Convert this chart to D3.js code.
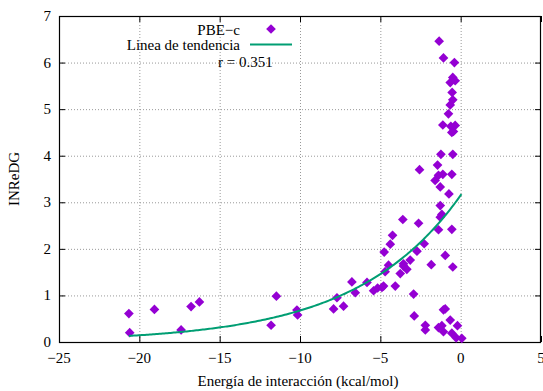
<!DOCTYPE html>
<html>
<head>
<meta charset="utf-8">
<script src="https://cdn.jsdelivr.net/npm/d3@7"></script>
<style>
  body { margin: 0; background: #fff; }
  svg { display: block; font-family: "Liberation Serif", "DejaVu Serif", serif; }
</style>
</head>
<body>
<div id="chart"></div>
<script>
// energies (kcal/mol) and INReDG values
let energia = [
  -20.65, -20.6, -19.06, -17.4, -16.78, -16.26, -11.47, -11.8, -10.19, -10.15,
  -7.91, -7.29, -7.7, -6.77, -6.56, -5.83, -5.42, -5.17, -4.9, -4.8,
  -4.07, -4.7, -4.49, -4.76, -4.38, -4.24, -3.6, -3.76, -3.56,
  -2.27, -2.72, -3.14, -3.56, -3.35, -1.83, -0.96, -0.49, -2.93, -2.89,
  -2.2, -2.2, -1.07, -0.96, -1.38, -1.17, -1.07, -0.65, -0.55, -0.2, -0.28, 0.07,
  -0.55, -1.23, -0.49, -2.56, -1.44, -1.38, -1.11, -1.59, -0.55, -1.27, -0.73,
  -1.27, -1.17, -1.27, -2.62, -1.38, -0.55,
  -1.34, -1.07, -0.39, -0.49, -0.34, -0.65, -0.53, -0.49, -0.65, -0.76,
  -1.11, -0.61, -0.45, -0.34
];
let inredg = [
  0.61, 0.20, 0.70, 0.26, 0.76, 0.86, 0.985, 0.36, 0.685, 0.58,
  0.71, 0.77, 0.95, 1.29, 1.06, 1.28, 1.10, 1.16, 1.17, 1.20,
  1.20, 1.51, 1.65, 1.93, 2.10, 2.29, 2.63, 1.47, 1.68,
  2.11, 1.95, 1.76, 1.63, 1.56, 1.66, 1.86, 1.61, 1.03, 0.56,
  0.36, 0.26, 0.69, 0.71, 0.31, 0.35, 0.22, 0.47, 0.19, 0.35, 0.09, 0.08,
  4.50, 4.03, 4.03, 3.70, 3.80, 3.58, 3.60, 3.47, 3.60, 3.33, 3.18,
  2.93, 2.74, 2.68, 2.55, 2.41, 2.42,
  6.46, 6.10, 6.0, 5.68, 5.61, 5.57, 5.36, 5.20, 5.09, 4.90,
  4.66, 4.63, 4.52, 4.65
];

// trend line y = a * exp(b * x), parameters
let trendA = 3.15;
let trendB = 0.154;

let xTicks = [-25, -20, -15, -10, -5, 0, 5];
let yTicks = [0, 1, 2, 3, 4, 5, 6, 7];

let seriesLabel = 'PBE\u2212c';
let trendLabel = 'Linea de tendencia';
let rLabel = 'r = 0.351';
let xTitle = 'Energía de interacción (kcal/mol)';
let yTitle = 'INReDG';

let W = 543, H = 391;
let mLeft = 59, mRight = 541, mTop = 16, mBottom = 342;
let fs = 15;
let fmt = d => d < 0 ? '\u2212' + Math.abs(d) : String(d);

let svg = d3.select('#chart').append('svg').attr('width', W).attr('height', H);

let x = d3.scaleLinear().domain([-25, 5]).range([mLeft, mRight]);
let y = d3.scaleLinear().domain([0, 7]).range([mBottom, mTop]);

// grid
let grid = svg.append('g')
  .attr('stroke', '#999')
  .attr('stroke-width', 1)
  .attr('stroke-dasharray', '1,2');
grid.selectAll('line.gx')
  .data(xTicks.slice(1, -1))
  .enter().append('line')
  .attr('x1', d => x(d) + 0.5).attr('x2', d => x(d) + 0.5)
  .attr('y1', mTop).attr('y2', mBottom);
grid.selectAll('line.gy')
  .data(yTicks.slice(1, -1))
  .enter().append('line')
  .attr('y1', d => y(d) + 0.5).attr('y2', d => y(d) + 0.5)
  .attr('x1', mLeft).attr('x2', mRight);

// ticks (inward, mirrored)
let tk = svg.append('g').attr('stroke', '#000').attr('stroke-width', 1);
xTicks.forEach(d => {
  tk.append('line').attr('x1', x(d) + 0.5).attr('x2', x(d) + 0.5).attr('y1', mBottom).attr('y2', mBottom - 6);
  tk.append('line').attr('x1', x(d) + 0.5).attr('x2', x(d) + 0.5).attr('y1', mTop).attr('y2', mTop + 6);
});
yTicks.forEach(d => {
  tk.append('line').attr('y1', y(d) + 0.5).attr('y2', y(d) + 0.5).attr('x1', mLeft).attr('x2', mLeft + 6);
  tk.append('line').attr('y1', y(d) + 0.5).attr('y2', y(d) + 0.5).attr('x1', mRight).attr('x2', mRight - 6);
});

// border
svg.append('rect')
  .attr('x', mLeft + 0.5).attr('y', mTop + 0.5)
  .attr('width', mRight - mLeft - 1).attr('height', mBottom - mTop)
  .attr('fill', 'none').attr('stroke', '#000').attr('stroke-width', 1.2);

// tick labels
svg.append('g').selectAll('text')
  .data(xTicks)
  .enter().append('text')
  .attr('x', d => x(d))
  .attr('y', mBottom + 21)
  .attr('text-anchor', 'middle')
  .attr('font-size', fs)
  .text(fmt);
svg.append('g').selectAll('text')
  .data(yTicks)
  .enter().append('text')
  .attr('x', mLeft - 8)
  .attr('y', d => y(d) + 5)
  .attr('text-anchor', 'end')
  .attr('font-size', fs)
  .text(fmt);

// axis titles
svg.append('text')
  .attr('x', (mLeft + mRight) / 2 - 2).attr('y', H - 5)
  .attr('text-anchor', 'middle').attr('font-size', fs)
  .text(xTitle);
svg.append('text')
  .attr('transform', `translate(19, ${(mTop + mBottom) / 2}) rotate(-90)`)
  .attr('text-anchor', 'middle').attr('font-size', fs)
  .text(yTitle);

// points
let pts = energia.map((e, i) => [e, inredg[i]]);
let diamond = d3.symbol().type(d3.symbolDiamond2).size(60);
svg.append('g').selectAll('path')
  .data(pts)
  .enter().append('path')
  .attr('d', diamond)
  .attr('transform', d => `translate(${x(d[0])}, ${y(d[1])})`)
  .attr('fill', '#9400d3');

// trend line
let trendX = d3.range(d3.min(energia), d3.max(energia) + 0.001, 0.1);
let trendLine = d3.line()
  .x(d => x(d))
  .y(d => y(trendA * Math.exp(trendB * d)));
svg.append('path')
  .attr('d', trendLine(trendX))
  .attr('fill', 'none')
  .attr('stroke', '#009e73')
  .attr('stroke-width', 2);

// legend
let lg = svg.append('g').attr('font-size', fs);
lg.append('text').attr('x', 240).attr('y', 35).attr('text-anchor', 'end').text(seriesLabel);
lg.append('path').attr('d', diamond).attr('transform', 'translate(271, 29)').attr('fill', '#9400d3');
lg.append('text').attr('x', 240).attr('y', 50).attr('text-anchor', 'end').text(trendLabel);
lg.append('line').attr('x1', 250).attr('x2', 292).attr('y1', 44.5).attr('y2', 44.5)
  .attr('stroke', '#009e73').attr('stroke-width', 2);
lg.append('text').attr('x', 218).attr('y', 67).text(rLabel);
</script>
</body>
</html>
